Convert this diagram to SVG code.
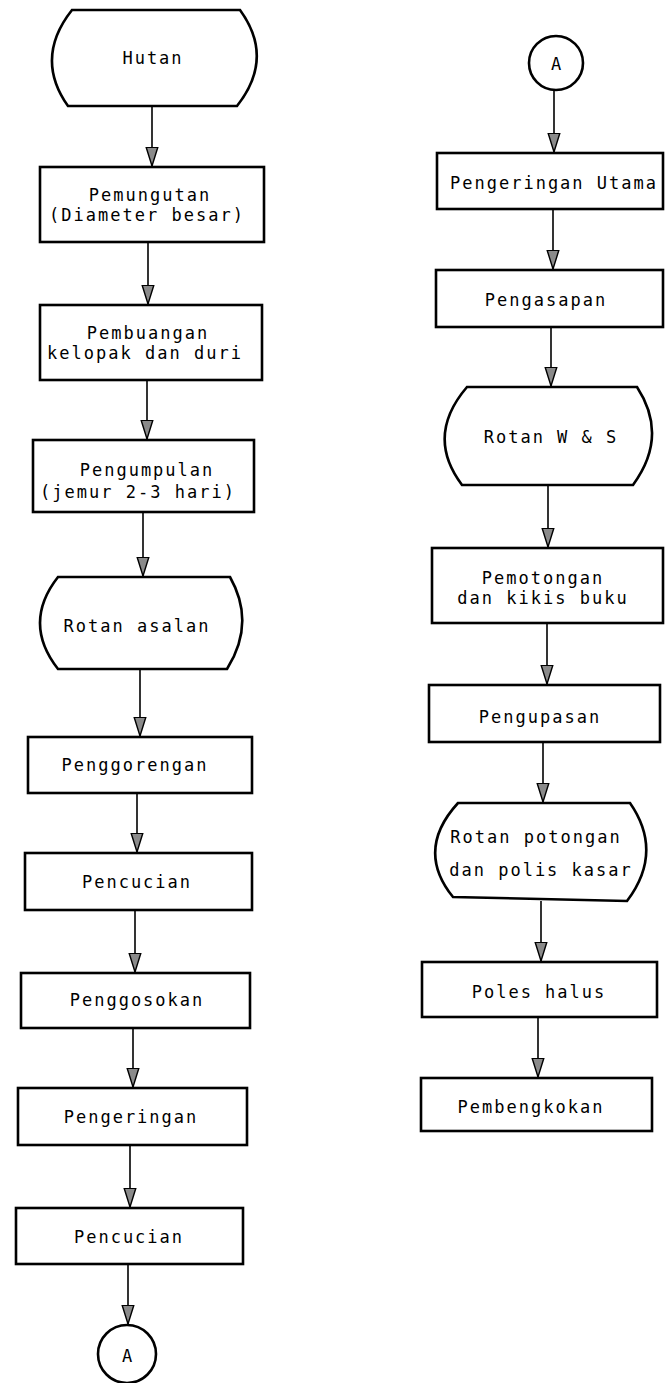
<svg xmlns="http://www.w3.org/2000/svg" width="665" height="1383" viewBox="0 0 665 1383">
<style>
.shape{fill:#fff;stroke:#000;stroke-width:2.6}
.conn{stroke:#000;stroke-width:1.6;fill:none;marker-end:url(#arr)}
text{font-family:"DejaVu Sans Mono","Liberation Mono",monospace;font-size:17px;letter-spacing:2px;text-anchor:middle;fill:#000}
</style>
<defs>
<marker id="arr" markerUnits="userSpaceOnUse" markerWidth="20" markerHeight="14" viewBox="0 -6 17 12" refX="16" refY="0" orient="auto">
<path d="M0,-5 L16,0 L0,5 Z" fill="#8a8a8a" stroke="#000" stroke-width="1.2"/>
</marker>
</defs>
<rect width="665" height="1383" fill="#fff"/>
<g id="connectors">
<line class="conn" x1="152" y1="106" x2="152" y2="166"/>
<line class="conn" x1="148" y1="242" x2="148" y2="304"/>
<line class="conn" x1="147" y1="380" x2="147" y2="439"/>
<line class="conn" x1="143" y1="512" x2="143" y2="576"/>
<line class="conn" x1="140" y1="669" x2="140" y2="736"/>
<line class="conn" x1="137" y1="793" x2="137" y2="852"/>
<line class="conn" x1="135" y1="910" x2="135" y2="972"/>
<line class="conn" x1="133" y1="1028" x2="133" y2="1087"/>
<line class="conn" x1="130" y1="1145" x2="130" y2="1207"/>
<line class="conn" x1="128" y1="1264" x2="128" y2="1324"/>
<line class="conn" x1="554" y1="90" x2="554" y2="152"/>
<line class="conn" x1="553" y1="209" x2="553" y2="269"/>
<line class="conn" x1="551" y1="327" x2="551" y2="386"/>
<line class="conn" x1="548" y1="485" x2="548" y2="547"/>
<line class="conn" x1="547" y1="623" x2="547" y2="684"/>
<line class="conn" x1="543" y1="742" x2="543" y2="802"/>
<line class="conn" x1="541" y1="901" x2="541" y2="961"/>
<line class="conn" x1="538" y1="1017" x2="538" y2="1077"/>
</g>
<g id="hutan">
<path class="shape" d="M72,10 L240,10 Q275,58 237,106 L68,106 Q34,58 72,10 Z"/>
<text x="153" y="64">Hutan</text>
</g>
<g id="pemungutan">
<rect class="shape" x="40" y="167" width="224" height="75"/>
<text x="150" y="201">Pemungutan</text>
<text x="147" y="221">(Diameter besar)</text>
</g>
<g id="pembuangan">
<rect class="shape" x="40" y="305" width="222" height="75"/>
<text x="148" y="339">Pembuangan</text>
<text x="145" y="359">kelopak dan duri</text>
</g>
<g id="pengumpulan">
<rect class="shape" x="33" y="440" width="221" height="72"/>
<text x="147" y="476">Pengumpulan</text>
<text x="138" y="498">(jemur 2-3 hari)</text>
</g>
<g id="rotan-asalan">
<path class="shape" d="M58,577 L230,577 Q256,623 227,669 L58,669 Q22,623 58,577 Z"/>
<text x="137" y="632">Rotan asalan</text>
</g>
<g id="penggorengan">
<rect class="shape" x="28" y="737" width="224" height="56"/>
<text x="135" y="771">Penggorengan</text>
</g>
<g id="pencucian1">
<rect class="shape" x="25" y="853" width="227" height="57"/>
<text x="137" y="888">Pencucian</text>
</g>
<g id="penggosokan">
<rect class="shape" x="21" y="973" width="229" height="55"/>
<text x="137" y="1006">Penggosokan</text>
</g>
<g id="pengeringan">
<rect class="shape" x="18" y="1088" width="229" height="57"/>
<text x="131" y="1123">Pengeringan</text>
</g>
<g id="pencucian2">
<rect class="shape" x="16" y="1208" width="227" height="56"/>
<text x="129" y="1243">Pencucian</text>
</g>
<g id="connector-a-left">
<circle class="shape" cx="127" cy="1354" r="29"/>
<text x="128" y="1362">A</text>
</g>
<g id="connector-a-right">
<circle class="shape" cx="556" cy="63" r="27"/>
<text x="557" y="70">A</text>
</g>
<g id="pengeringan-utama">
<rect class="shape" x="437" y="153" width="226" height="56"/>
<text x="554" y="189">Pengeringan Utama</text>
</g>
<g id="pengasapan">
<rect class="shape" x="436" y="270" width="227" height="57"/>
<text x="546" y="306">Pengasapan</text>
</g>
<g id="rotan-ws">
<path class="shape" d="M467,387 L637,387 Q669,436 633,485 L462,485 Q425,436 467,387 Z"/>
<text x="551" y="443">Rotan W &amp; S</text>
</g>
<g id="pemotongan">
<rect class="shape" x="432" y="548" width="231" height="75"/>
<text x="543" y="584">Pemotongan</text>
<text x="543" y="604">dan kikis buku</text>
</g>
<g id="pengupasan">
<rect class="shape" x="429" y="685" width="231" height="57"/>
<text x="540" y="723">Pengupasan</text>
</g>
<g id="rotan-potongan">
<path class="shape" d="M458,803 L630,803 Q664,852 627,901 L453,897 Q415,850 458,803 Z"/>
<text x="536" y="843">Rotan potongan</text>
<text x="541" y="876">dan polis kasar</text>
</g>
<g id="poles-halus">
<rect class="shape" x="422" y="962" width="235" height="55"/>
<text x="539" y="998">Poles halus</text>
</g>
<g id="pembengkokan">
<rect class="shape" x="421" y="1078" width="231" height="53"/>
<text x="531" y="1113">Pembengkokan</text>
</g>
</svg>
